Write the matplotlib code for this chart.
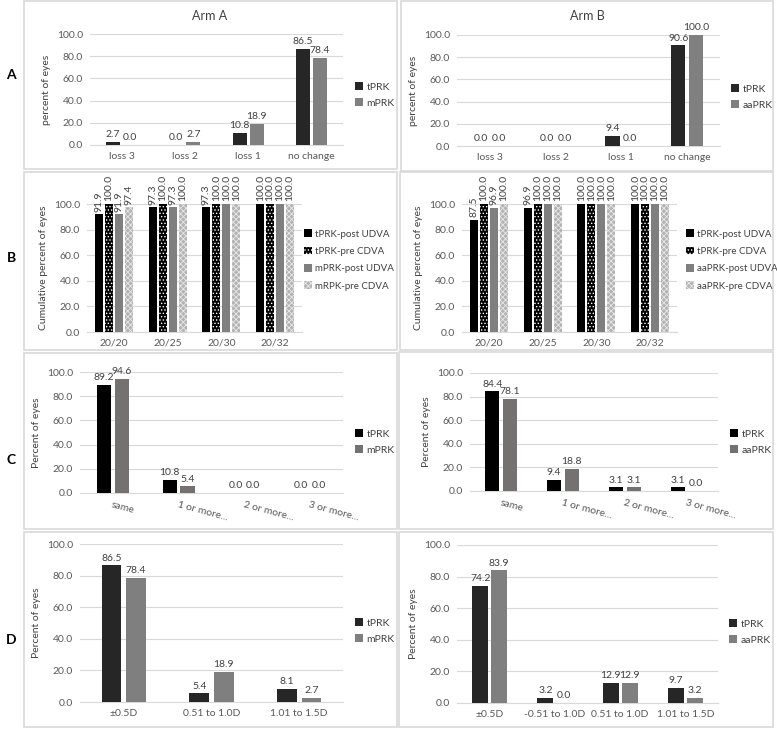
import matplotlib
matplotlib.use("Agg")
import matplotlib.pyplot as plt
from matplotlib.patches import Rectangle
import numpy as np

plt.rcParams['font.family'] = ['Lato', 'DejaVu Sans']
plt.rcParams['hatch.linewidth'] = 0.6

W, H = 777, 729

# ---------------- data ----------------
loss_cats = ["loss 3", "loss 2", "loss 1", "no change"]
a_left_t = [2.7, 0.0, 10.8, 86.5]
a_left_m = [0.0, 2.7, 18.9, 78.4]
a_right_t = [0.0, 0.0, 9.4, 90.6]
a_right_aa = [0.0, 0.0, 0.0, 100.0]

va_cats = ["20/20", "20/25", "20/30", "20/32"]
b_left_labels = ["tPRK-post UDVA", "tPRK-pre CDVA", "mPRK-post UDVA", "mRPK-pre CDVA"]
b_left = [[91.9, 97.3, 97.3, 100.0],
          [100.0, 100.0, 100.0, 100.0],
          [91.9, 97.3, 100.0, 100.0],
          [97.4, 100.0, 100.0, 100.0]]
b_right_labels = ["tPRK-post UDVA", "tPRK-pre CDVA", "aaPRK-post UDVA", "aaPRK-pre CDVA"]
b_right = [[87.5, 96.9, 100.0, 100.0],
           [100.0, 100.0, 100.0, 100.0],
           [96.9, 100.0, 100.0, 100.0],
           [100.0, 100.0, 100.0, 100.0]]

line_cats = ["same", "1 or more...", "2 or more...", "3 or more..."]
c_left_t = [89.2, 10.8, 0.0, 0.0]
c_left_m = [94.6, 5.4, 0.0, 0.0]
c_right_t = [84.4, 9.4, 3.1, 3.1]
c_right_aa = [78.1, 18.8, 3.1, 0.0]

d_left_cats = ["\u00b10.5D", "0.51 to 1.0D", "1.01 to 1.5D"]
d_left_t = [86.5, 5.4, 8.1]
d_left_m = [78.4, 18.9, 2.7]
d_right_cats = ["\u00b10.5D", "-0.51 to 1.0D", "0.51 to 1.0D", "1.01 to 1.5D"]
d_right_t = [74.2, 3.2, 12.9, 9.7]
d_right_aa = [83.9, 0.0, 12.9, 3.2]

yticks = [0, 20, 40, 60, 80, 100]

fig = plt.figure(figsize=(W / 100, H / 100), dpi=100)

def rect(x0, y0, x1, y1):
    return [x0 / W, 1 - y1 / H, (x1 - x0) / W, (y1 - y0) / H]

def box(x0, y0, x1, y1):
    fig.patches.append(Rectangle((x0 / W, 1 - y1 / H), (x1 - x0) / W, (y1 - y0) / H,
                                 transform=fig.transFigure, fill=False,
                                 edgecolor='#d9d9d9', linewidth=1.2))

TXT = '#595959'
LBL = '#404040'

def setup(ax, cats, ylabel, rot=0):
    n = len(cats)
    ax.set_xlim(-0.5, n - 0.5)
    ax.set_ylim(0, 100)
    ax.set_yticks(yticks)
    ax.set_yticklabels([f"{v:.1f}" for v in yticks], fontsize=7.5, color=TXT)
    ax.set_xticks(np.arange(n))
    if rot:
        ax.set_xticklabels(cats, fontsize=7.5, color=TXT, rotation=rot,
                           ha='left', va='top', rotation_mode='anchor')
    else:
        ax.set_xticklabels(cats, fontsize=7.5, color=TXT)
    ax.tick_params(length=0, pad=5)
    ax.grid(axis='y', color='#d9d9d9', linewidth=0.8)
    ax.set_axisbelow(True)
    for s in ['top', 'left', 'right']:
        ax.spines[s].set_visible(False)
    ax.spines['bottom'].set_color('#d9d9d9')
    ax.set_ylabel(ylabel, fontsize=7.5, color=LBL, labelpad=4)
    ax.patch.set_alpha(0)

def two_bar(ax, t, m, width, step, colors, labels, legend_xy):
    x = np.arange(len(t))
    b1 = ax.bar(x - step / 2, t, width, color=colors[0], label=labels[0], zorder=3)
    b2 = ax.bar(x + step / 2, m, width, color=colors[1], label=labels[1], zorder=3)
    ax.bar_label(b1, fmt='%.1f', padding=2, fontsize=7.5, color=LBL)
    ax.bar_label(b2, fmt='%.1f', padding=2, fontsize=7.5, color=LBL)
    fig.legend(handles=[b1, b2], labels=labels, loc='center left',
               bbox_to_anchor=(legend_xy[0] / W, 1 - legend_xy[1] / H),
               frameon=False, fontsize=7.5, handlelength=0.8, handleheight=0.8,
               handletextpad=0.3, labelspacing=0.6, borderaxespad=0, borderpad=0,
               labelcolor=LBL)

# boxes
box(24, 1, 397, 169)
box(401, 1, 773, 171)
box(24, 172, 397, 350)
box(400, 172, 773, 350)
box(24, 353, 397, 529)
box(399, 352, 773, 529)
box(24, 532, 397, 727)
box(399, 532, 773, 727)

# ---- Row A ----
ax = fig.add_axes(rect(90, 34, 343, 145))
setup(ax, loss_cats, "percent of eyes")
two_bar(ax, a_left_t, a_left_m, 0.22, 0.27, ['#262626', '#808080'], ["tPRK", "mPRK"], (355, 95))
fig.text(210 / W, 1 - 16 / H, "Arm A", ha='center', va='center', fontsize=9, color=LBL)

ax = fig.add_axes(rect(457, 35, 720, 146))
setup(ax, loss_cats, "percent of eyes")
two_bar(ax, a_right_t, a_right_aa, 0.22, 0.27, ['#262626', '#808080'], ["tPRK", "aaPRK"], (731, 97))
fig.text(587 / W, 1 - 16 / H, "Arm B", ha='center', va='center', fontsize=9, color=LBL)

# ---- Row B ----
def four_bar(ax, series, labels, legend_xy):
    x = np.arange(len(series[0]))
    width, step = 0.148, 0.185
    styles = [dict(color='#000000'),
              dict(facecolor='#000000', edgecolor='#ffffff', hatch='.....', linewidth=0),
              dict(color='#7f7f7f'),
              dict(facecolor='#b3b3b3', edgecolor='#e8e8e8', hatch='xxxxxx', linewidth=0)]
    handles = []
    for i, (vals, st) in enumerate(zip(series, styles)):
        b = ax.bar(x + (i - 1.5) * step, vals, width, zorder=3, **st)
        ax.bar_label(b, fmt='%.1f', padding=2, fontsize=7.5, color=LBL, rotation=90)
        handles.append(b)
    fig.legend(handles=handles, labels=labels, loc='center left',
               bbox_to_anchor=(legend_xy[0] / W, 1 - legend_xy[1] / H),
               frameon=False, fontsize=7, handlelength=0.8, handleheight=0.8,
               handletextpad=0.3, labelspacing=0.85, borderaxespad=0, borderpad=0,
               labelcolor=LBL)

ax = fig.add_axes(rect(87, 204, 302, 332))
setup(ax, va_cats, "Cumulative percent of eyes")
four_bar(ax, b_left, b_left_labels, (304, 260))

ax = fig.add_axes(rect(462, 204, 677, 332))
setup(ax, va_cats, "Cumulative percent of eyes")
four_bar(ax, b_right, b_right_labels, (686, 260))

# ---- Row C ----
ax = fig.add_axes(rect(80, 372, 343, 493))
setup(ax, line_cats, "Percent of eyes", rot=-15)
two_bar(ax, c_left_t, c_left_m, 0.22, 0.27, ['#000000', '#767171'], ["tPRK", "mPRK"], (355, 442))

ax = fig.add_axes(rect(470, 373, 718, 491))
setup(ax, line_cats, "Percent of eyes", rot=-15)
two_bar(ax, c_right_t, c_right_aa, 0.235, 0.285, ['#000000', '#767171'], ["tPRK", "aaPRK"], (730, 442))

# ---- Row D ----
ax = fig.add_axes(rect(80, 544, 343, 702))
setup(ax, d_left_cats, "Percent of eyes")
two_bar(ax, d_left_t, d_left_m, 0.225, 0.28, ['#262626', '#7f7f7f'], ["tPRK", "mPRK"], (355, 631))

ax = fig.add_axes(rect(457, 545, 718, 703))
setup(ax, d_right_cats, "Percent of eyes")
two_bar(ax, d_right_t, d_right_aa, 0.245, 0.29, ['#262626', '#7f7f7f'], ["tPRK", "aaPRK"], (729, 632))

# row letters
for letter, yy in [("A", 75), ("B", 258), ("C", 460), ("D", 640)]:
    fig.text(11 / W, 1 - yy / H, letter, ha='center', va='center', fontsize=10,
             fontweight='bold', color='#000000')

fig.savefig("out.png", dpi=100)
